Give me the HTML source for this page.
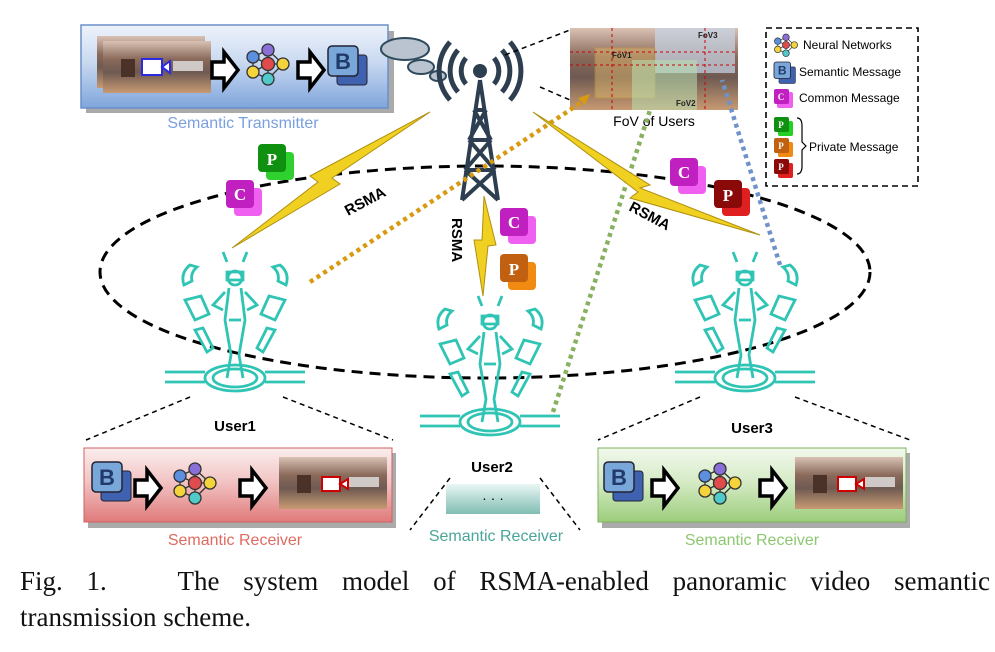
<!DOCTYPE html>
<html><head><meta charset="utf-8"><style>
body{margin:0;background:#fff;width:995px;height:652px;overflow:hidden}
svg{position:absolute;left:0;top:0}
.cap{position:absolute;left:20px;width:970px;font-family:"Liberation Serif",serif;font-size:27px;color:#111;text-align:justify;text-align-last:justify;white-space:nowrap}
.hand{font-family:"Liberation Sans",sans-serif}
</style></head><body>
<svg width="995" height="652" viewBox="0 0 995 652">
<defs>
<linearGradient id="gb" x1="0" y1="0" x2="0" y2="1"><stop offset="0" stop-color="#eef3fb"/><stop offset="0.45" stop-color="#c9d9f0"/><stop offset="1" stop-color="#7fa5dc"/></linearGradient>
<linearGradient id="gr" x1="0" y1="0" x2="0" y2="1"><stop offset="0" stop-color="#fbeeee"/><stop offset="0.45" stop-color="#f2c4c4"/><stop offset="1" stop-color="#e07a7a"/></linearGradient>
<linearGradient id="gg" x1="0" y1="0" x2="0" y2="1"><stop offset="0" stop-color="#f1f8ec"/><stop offset="0.45" stop-color="#d6ebc6"/><stop offset="1" stop-color="#9ccd7c"/></linearGradient>
<linearGradient id="gt" x1="0" y1="0" x2="0" y2="1"><stop offset="0" stop-color="#eaf6f4"/><stop offset="1" stop-color="#7fbdb3"/></linearGradient>
<linearGradient id="pano" x1="0" y1="0" x2="0" y2="1"><stop offset="0" stop-color="#d9c2b4"/><stop offset="0.35" stop-color="#8a6a5a"/><stop offset="0.6" stop-color="#6e5a52"/><stop offset="1" stop-color="#c89a72"/></linearGradient>
<g id="pimg"><rect x="0" y="0" width="108" height="52" fill="url(#pano)"/><rect x="18" y="18" width="14" height="18" fill="#4a3228"/><rect x="70" y="20" width="30" height="10" fill="#cfcac8"/></g>
<g id="barrow"><path d="M0 8h12v-10l14 18-14 18v-10h-12z" fill="#fff" stroke="#000" stroke-width="3.5"/></g>
<g id="nn" stroke="#333" stroke-width="1.3">
<line x1="-15" y1="-7" x2="0" y2="-14"/><line x1="-15" y1="-7" x2="0" y2="0"/><line x1="-15" y1="8" x2="0" y2="0"/><line x1="-15" y1="8" x2="0" y2="15"/><line x1="0" y1="-14" x2="15" y2="0"/><line x1="0" y1="15" x2="15" y2="0"/><line x1="0" y1="0" x2="15" y2="0"/><line x1="0" y1="-14" x2="0" y2="15"/><line x1="-15" y1="-7" x2="-15" y2="8"/>
<circle cx="0" cy="-14" r="6" fill="#8b6fd8"/><circle cx="-15" cy="-7" r="6" fill="#5b8fe0"/><circle cx="0" cy="0" r="6.5" fill="#e04b4b"/><circle cx="15" cy="0" r="6" fill="#f4d43a"/><circle cx="-15" cy="8" r="6" fill="#f4d43a"/><circle cx="0" cy="15" r="6" fill="#4fc9c9"/></g>
<g id="bicon"><rect x="9" y="9" width="30" height="30" rx="3" fill="#3f62b0" stroke="#223" stroke-width="1"/><rect x="0" y="0" width="30" height="30" rx="4" fill="#7aa7d9" stroke="#223" stroke-width="1.5"/><text x="15" y="23" text-anchor="middle" font-family="Liberation Sans" font-weight="bold" font-size="22" fill="#223a6a">B</text></g>
<g id="user" fill="none" stroke="#2fc4b4" stroke-width="2.8">
<ellipse cx="0" cy="118" rx="30" ry="13"/><ellipse cx="0" cy="118" rx="22" ry="9"/>
<path d="M-70 112h40M-70 122h40M30 112h40M30 122h40"/>
<circle cx="0" cy="18" r="7"/><path d="M-8 12h16v8h-16z"/>
<path d="M-6 28 L-10 60 L-4 95 L-8 118 M6 28 L10 60 L4 95 L8 118 M-10 32 L-22 45 L-12 50 M10 32 L22 45 L12 50 M-6 60 L6 60"/>
<path d="M-45 5 q-10 8 -6 20 l8 -4 q-2 -8 5 -14z M45 5 q10 8 6 20 l-8 -4 q2 -8 -5 -14z M-50 40 l10 20 l14 -6 l-8 -18z M50 40 l-10 20 l-14 -6 l8 -18z M-40 70 l12 22 l6 -4 l-10 -20z M40 70 l-12 22 l-6 -4 l10 -20z M-12 -8 l4 10 M12 -8 l-4 10"/>
</g>
<g id="cic"><rect x="8" y="8" width="28" height="28" rx="4" fill="#f060f0"/><rect x="0" y="0" width="28" height="28" rx="4" fill="#c020c0"/><text x="14" y="20" text-anchor="middle" font-family="Liberation Serif" font-weight="bold" font-size="17" fill="#fff">C</text></g>
</defs>

<ellipse cx="485" cy="272" rx="385" ry="106" fill="none" stroke="#000" stroke-width="3" stroke-dasharray="11,7"/>

<rect x="86" y="31" width="308" height="82" fill="#aaa"/>
<rect x="81" y="25" width="307" height="83" fill="url(#gb)" stroke="#6b8fc9" stroke-width="1.5"/>
<use href="#pimg" x="97" y="36"/><use href="#pimg" x="103" y="41"/>
<rect x="142" y="59" width="20" height="16" fill="#fff" stroke="#2a2ae0" stroke-width="2"/><path d="M162 67l8-6v12z" fill="#fff" stroke="#2a2ae0" stroke-width="2"/>
<use href="#barrow" x="212" y="54"/><use href="#nn" x="268" y="64"/><use href="#barrow" x="298" y="54"/><use href="#bicon" x="328" y="46"/>
<text x="243" y="128" text-anchor="middle" class="hand" font-size="16" fill="#7a9fe0">Semantic Transmitter</text>
<ellipse cx="405" cy="49" rx="24" ry="11" fill="#b9c4d0" stroke="#2e4a5c" stroke-width="2"/>
<ellipse cx="421" cy="67" rx="13" ry="7" fill="#b9c4d0" stroke="#2e4a5c" stroke-width="2"/>
<ellipse cx="438" cy="76" rx="8" ry="5" fill="#b9c4d0" stroke="#2e4a5c" stroke-width="2"/>

<g stroke="#2d3e50" stroke-width="4" fill="none">
<path d="M480 80 L462 200 M480 80 L498 200 M474 110h12 M469 140h22 M465 170h30 M474 110 L491 140 M486 110 L469 140 M469 140 L495 170 M491 140 L465 170 M465 170 L498 200 M495 170 L462 200"/>
<path d="M466 58a20 20 0 0 0 0 26M458 50a32 32 0 0 0 0 42M450 42a44 44 0 0 0 0 58M494 58a20 20 0 0 1 0 26M502 50a32 32 0 0 1 0 42M510 42a44 44 0 0 1 0 58" stroke-width="5"/>
</g>
<circle cx="480" cy="71" r="7" fill="#2d3e50"/>
<path d="M505 55 L570 30 M540 87 L570 100" stroke="#000" stroke-width="1.5" stroke-dasharray="5,4"/>

<rect x="570" y="28" width="168" height="82" fill="url(#pano)"/>
<rect x="655" y="28" width="80" height="45" fill="#c8d6e8" opacity="0.7"/>
<rect x="595" y="48" width="60" height="50" fill="#e8c070" opacity="0.45" stroke="#d4a030"/>
<rect x="632" y="60" width="65" height="50" fill="#b8e0b0" opacity="0.55"/>
<path d="M570 52h168M570 65h168" stroke="#c00" stroke-dasharray="3,3"/>
<path d="M612 28v82M705 28v82" stroke="#c00" stroke-dasharray="3,3"/>
<text x="612" y="58" font-family="Liberation Sans" font-size="8" font-weight="bold" fill="#222">FoV1</text>
<text x="698" y="38" font-family="Liberation Sans" font-size="8" font-weight="bold" fill="#222">FoV3</text>
<text x="676" y="106" font-family="Liberation Sans" font-size="8" font-weight="bold" fill="#222">FoV2</text>
<text x="654" y="126" text-anchor="middle" class="hand" font-size="14" fill="#000">FoV of Users</text>

<rect x="766" y="28" width="152" height="158" fill="#fff" stroke="#000" stroke-width="1.6" stroke-dasharray="6,4"/>
<g transform="translate(786,45) scale(0.55)"><use href="#nn"/></g>
<text x="803" y="49" class="hand" font-size="12">Neural Networks</text>
<g transform="translate(774,62) scale(0.55)"><use href="#bicon"/></g>
<text x="799" y="76" class="hand" font-size="12">Semantic Message</text>
<rect x="777" y="92" width="16" height="16" rx="2" fill="#f060f0"/><rect x="774" y="89" width="15" height="15" rx="2" fill="#c020c0"/><text x="781" y="100" font-size="9" font-weight="bold" fill="#fff" text-anchor="middle">C</text>
<text x="799" y="102" class="hand" font-size="12">Common Message</text>
<rect x="778" y="121" width="15" height="15" rx="2" fill="#22d022"/><rect x="774" y="117" width="15" height="15" rx="2" fill="#109010"/><text x="781" y="128" font-size="9" font-weight="bold" fill="#fff" text-anchor="middle">P</text>
<rect x="778" y="142" width="15" height="15" rx="2" fill="#f08a10"/><rect x="774" y="138" width="15" height="15" rx="2" fill="#c06010"/><text x="781" y="149" font-size="9" font-weight="bold" fill="#fff" text-anchor="middle">P</text>
<rect x="778" y="163" width="15" height="15" rx="2" fill="#e02020"/><rect x="774" y="159" width="15" height="15" rx="2" fill="#8a0a0a"/><text x="781" y="170" font-size="9" font-weight="bold" fill="#fff" text-anchor="middle">P</text>
<path d="M797 118q5 0 5 8v16l4 4l-4 4v16q0 8-5 8" fill="none" stroke="#000" stroke-width="1.2"/>
<text x="809" y="151" class="hand" font-size="12">Private Message</text>

<line x1="310" y1="282" x2="585" y2="100" stroke="#d89a10" stroke-width="4.5" stroke-dasharray="4,4"/>
<path d="M578 98l12-4-5 11z" fill="#d89a10"/>
<line x1="553" y1="412" x2="650" y2="110" stroke="#88b060" stroke-width="4.5" stroke-dasharray="4,4"/>
<line x1="780" y1="265" x2="722" y2="80" stroke="#6f93c8" stroke-width="4.5" stroke-dasharray="4,4"/>

<g fill="#f0d020" stroke="#b09010" stroke-width="1">
<path d="M430 112 L332 178 L340 184 L232 248 L318 182 L310 176 Z"/>
<path d="M533 112 L650 185 L640 188 L760 235 L630 198 L638 192 Z"/>
<path d="M484 196 L496 245 L488 246 L483 296 L474 240 L482 240 Z"/>
</g>
<text x="348" y="216" class="hand" font-size="15" font-weight="bold" transform="rotate(-28 348 216)">RSMA</text>
<text x="628" y="210" class="hand" font-size="15" font-weight="bold" transform="rotate(28 628 210)">RSMA</text>
<text x="452" y="218" class="hand" font-size="15" font-weight="bold" transform="rotate(90 452 218)">RSMA</text>

<use href="#cic" x="226" y="180"/>
<rect x="266" y="152" width="28" height="28" rx="4" fill="#30d030"/><rect x="258" y="144" width="28" height="28" rx="4" fill="#109010"/><text x="272" y="165" text-anchor="middle" font-family="Liberation Serif" font-weight="bold" font-size="17" fill="#fff">P</text>
<use href="#cic" x="500" y="208"/>
<rect x="508" y="262" width="28" height="28" rx="4" fill="#f08a10"/><rect x="500" y="254" width="28" height="28" rx="4" fill="#c06010"/><text x="514" y="275" text-anchor="middle" font-family="Liberation Serif" font-weight="bold" font-size="17" fill="#fff">P</text>
<use href="#cic" x="670" y="158"/>
<rect x="722" y="188" width="28" height="28" rx="4" fill="#e02020"/><rect x="714" y="180" width="28" height="28" rx="4" fill="#8a0a0a"/><text x="728" y="201" text-anchor="middle" font-family="Liberation Serif" font-weight="bold" font-size="17" fill="#fff">P</text>

<use href="#user" x="235" y="260"/>
<use href="#user" x="490" y="304"/>
<use href="#user" x="745" y="260"/>
<text x="235" y="431" text-anchor="middle" class="hand" font-size="15" font-weight="bold">User1</text>
<text x="492" y="472" text-anchor="middle" class="hand" font-size="15" font-weight="bold">User2</text>
<text x="752" y="433" text-anchor="middle" class="hand" font-size="15" font-weight="bold">User3</text>

<g stroke="#000" stroke-width="1.5" stroke-dasharray="5,4">
<path d="M190 397 L86 440 M283 397 L393 440 M700 397 L598 440 M795 397 L910 440 M450 478 L410 530 M540 478 L580 530"/>
</g>

<rect x="88" y="453" width="308" height="75" fill="#aaa"/>
<rect x="84" y="448" width="308" height="74" fill="url(#gr)" stroke="#d06060"/>
<use href="#bicon" x="92" y="462"/><use href="#barrow" x="135" y="472"/><use href="#nn" x="195" y="483"/><use href="#barrow" x="240" y="472"/>
<use href="#pimg" x="279" y="457"/>
<rect x="322" y="477" width="18" height="14" fill="#fff" stroke="#c00" stroke-width="2"/><path d="M340 484l8-5v10z" fill="#fff" stroke="#c00" stroke-width="2"/>
<text x="235" y="545" text-anchor="middle" class="hand" font-size="16" fill="#e06a60">Semantic Receiver</text>

<rect x="446" y="484" width="94" height="30" fill="url(#gt)"/>
<text x="493" y="503" text-anchor="middle" font-family="Liberation Sans" font-size="14">· · ·</text>
<text x="496" y="541" text-anchor="middle" class="hand" font-size="16" fill="#4aa59a">Semantic Receiver</text>

<rect x="602" y="453" width="308" height="75" fill="#aaa"/>
<rect x="598" y="448" width="308" height="74" fill="url(#gg)" stroke="#80b060"/>
<use href="#bicon" x="604" y="462"/><use href="#barrow" x="652" y="472"/><use href="#nn" x="720" y="483"/><use href="#barrow" x="760" y="472"/>
<use href="#pimg" x="795" y="457"/>
<rect x="838" y="477" width="18" height="14" fill="#fff" stroke="#c00" stroke-width="2"/><path d="M856 484l8-5v10z" fill="#fff" stroke="#c00" stroke-width="2"/>
<text x="752" y="545" text-anchor="middle" class="hand" font-size="16" fill="#8cc870">Semantic Receiver</text>
</svg>
<div class="cap" style="top:566px">Fig. 1.&nbsp;&nbsp; The system model of RSMA-enabled panoramic video semantic</div>
<div class="cap" style="top:602px;text-align-last:left">transmission scheme.</div>
</body></html>
